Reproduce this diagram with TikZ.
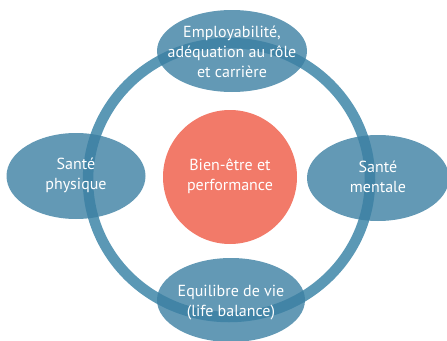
\documentclass[tikz,border=0pt]{standalone}
\usepackage{fontspec}
\setmainfont{PT Sans}
\usetikzlibrary{shapes.geometric}
\definecolor{ringblue}{RGB}{91,152,181}
\definecolor{bubbleblue}{RGB}{60,128,163}
\definecolor{corered}{RGB}{242,122,105}
\begin{document}
\begin{tikzpicture}[x=1pt,y=-1pt,
  label/.style={text=white, align=center, inner sep=0pt,
    font=\fontsize{16}{20}\selectfont},
  bubble/.style={ellipse, fill=bubbleblue, fill opacity=0.8, draw=none,
    inner sep=0pt},
  core/.style={circle, fill=corered, inner sep=0pt, minimum size=134pt},
]
\useasboundingbox (0,0) rectangle (447,340);

% outer ring joining the four domains
\draw[ringblue, line width=10.5pt] (229,180) ellipse [x radius=141, y radius=137];

% central circle
\node[core] (core) at (230,177) {};
\node[label] (coretext) at (230,176) {Bien-être et\\performance};

% the four domains
\node[bubble, minimum width=150pt, minimum height=82pt] (career) at (232,51) {};
\node[label] (careertext) at (232,52) {Employabilité,\\adéquation au rôle\\et carrière};

\node[bubble, minimum width=139pt, minimum height=86pt] (physical) at (76,176) {};
\node[label] (physicaltext) at (76,175) {Santé\\physique};

\node[bubble, minimum width=142pt, minimum height=86pt] (mental) at (378,178) {};
\node[label] (mentaltext) at (378,177) {Santé\\mentale};

\node[bubble, minimum width=148pt, minimum height=84pt] (balance) at (231,300) {};
\node[label] (balancetext) at (231,303) {Equilibre de vie\\(life balance)};
\end{tikzpicture}
\end{document}
